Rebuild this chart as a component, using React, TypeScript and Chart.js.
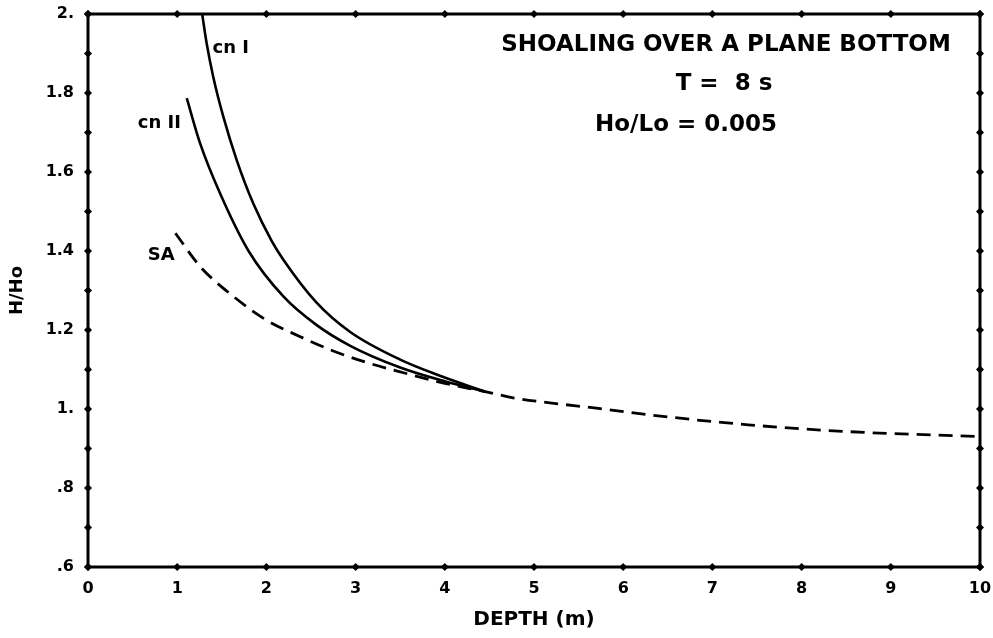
import React, { useEffect, useRef } from "react";
import { Chart, registerables } from "chart.js";

Chart.register(...registerables);

// Depth (m) and H/Ho readings
const cnIDepth = [1.28, 1.33, 1.405, 1.517, 1.667, 1.853, 2.06, 2.19, 2.56, 2.94, 3.5, 3.9, 4.45];
const cnIValues = [2.0, 1.926, 1.84, 1.74, 1.63, 1.52, 1.425, 1.378, 1.27, 1.195, 1.125, 1.088, 1.044];

const cnIIDepth = [1.107, 1.256, 1.48, 1.8, 2.19, 2.56, 2.94, 3.5, 4.0, 4.45];
const cnIIValues = [1.787, 1.673, 1.546, 1.4, 1.285, 1.213, 1.16, 1.105, 1.07, 1.044];

const saDepth = [0.98, 1.26, 1.63, 2.0, 2.38, 2.75, 3.12, 3.5, 4.0, 4.45, 4.8, 5.2, 5.7, 6.3, 7.4, 8.5, 10.0];
const saValues = [1.445, 1.36, 1.285, 1.225, 1.183, 1.147, 1.118, 1.094, 1.065, 1.044, 1.027, 1.015, 1.002, 0.985, 0.96, 0.943, 0.93];

const xTickValues = [0, 1, 2, 3, 4, 5, 6, 7, 8, 9, 10];
const yLabelMap: Record<string, string> = {
  "0.6": ".6",
  "0.8": ".8",
  "1.0": "1.",
  "1.2": "1.2",
  "1.4": "1.4",
  "1.6": "1.6",
  "1.8": "1.8",
  "2.0": "2.",
};

const titleLines = ["SHOALING OVER A PLANE BOTTOM", "T =  8 s", "Ho/Lo = 0.005"];
const curveLabels = [
  { text: "cn I", x: 1.6, y: 1.914 },
  { text: "cn II", x: 0.8, y: 1.724 },
  { text: "SA", x: 0.82, y: 1.39 },
];

const FONT = "'DejaVu Sans', 'Liberation Sans', sans-serif";

const pts = (xs: number[], ys: number[]) => xs.map((x, i) => ({ x, y: ys[i] }));

const framePlugin = {
  id: "frameAndText",
  afterDraw(chart: any) {
    const { ctx, chartArea: a, scales } = chart;
    const xs = scales.x;
    const ys = scales.y;
    ctx.save();
    ctx.strokeStyle = "#000";
    ctx.lineWidth = 3;
    ctx.strokeRect(a.left, a.top, a.right - a.left, a.bottom - a.top);
    const diamond = (cx: number, cy: number, r: number) => {
      ctx.beginPath();
      ctx.moveTo(cx - r, cy);
      ctx.lineTo(cx, cy - r);
      ctx.lineTo(cx + r, cy);
      ctx.lineTo(cx, cy + r);
      ctx.closePath();
      ctx.fill();
    };
    ctx.fillStyle = "#000";
    xTickValues.forEach((v) => {
      const px = xs.getPixelForValue(v);
      diamond(px, a.bottom, 4);
      diamond(px, a.top, 4);
    });
    for (let i = 0; i <= 14; i++) {
      const v = 0.6 + i * 0.1;
      const py = ys.getPixelForValue(v);
      diamond(a.left, py, 4);
      diamond(a.right, py, 4);
    }
    ctx.fillStyle = "#000";
    ctx.textAlign = "center";
    ctx.textBaseline = "middle";
    ctx.font = `bold 23px ${FONT}`;
    ctx.fillText(titleLines[0], 726, 45);
    ctx.fillText(titleLines[1], 724, 84);
    ctx.fillText(titleLines[2], 686, 125);
    ctx.font = `bold 18px ${FONT}`;
    curveLabels.forEach((l) => {
      ctx.fillText(l.text, xs.getPixelForValue(l.x), ys.getPixelForValue(l.y));
    });
    ctx.restore();
  },
};

export default function App() {
  const ref = useRef<HTMLCanvasElement | null>(null);
  useEffect(() => {
    if (!ref.current) return;
    const chart = new Chart(ref.current, {
      type: "line",
      data: {
        datasets: [
          {
            label: "cn I",
            data: pts(cnIDepth, cnIValues),
            borderColor: "#000",
            borderWidth: 2.6,
            pointRadius: 0,
            cubicInterpolationMode: "monotone",
            fill: false,
          },
          {
            label: "cn II",
            data: pts(cnIIDepth, cnIIValues),
            borderColor: "#000",
            borderWidth: 2.6,
            pointRadius: 0,
            cubicInterpolationMode: "monotone",
            fill: false,
          },
          {
            label: "SA",
            data: pts(saDepth, saValues),
            borderColor: "#000",
            borderWidth: 2.8,
            borderDash: [14, 8],
            pointRadius: 0,
            cubicInterpolationMode: "monotone",
            fill: false,
          },
        ],
      },
      options: {
        animation: false,
        responsive: true,
        maintainAspectRatio: false,
        layout: { padding: { top: 14, right: 13, left: 0, bottom: 0 } },
        plugins: { legend: { display: false }, tooltip: { enabled: false } },
        scales: {
          x: {
            type: "linear",
            min: 0,
            max: 10,
            afterFit: (s: any) => {
              s.height = 71;
              s.paddingLeft = 0;
              s.paddingRight = 0;
            },
            afterBuildTicks: (s: any) => {
              s.ticks = xTickValues.map((v) => ({ value: v }));
            },
            grid: { display: false, drawTicks: false },
            border: { display: false },
            ticks: {
              padding: 12,
              color: "#000",
              font: { family: FONT, size: 16, weight: "bold" },
              callback: (v: any) => String(v),
            },
            title: {
              display: true,
              text: "DEPTH (m)",
              color: "#000",
              font: { family: FONT, size: 20, weight: "bold" },
              padding: { top: 0, bottom: 6 },
            },
          },
          y: {
            type: "linear",
            min: 0.6,
            max: 2.0,
            afterFit: (s: any) => {
              s.width = 88;
              s.paddingTop = 0;
              s.paddingBottom = 0;
            },
            grid: { display: false, drawTicks: false },
            border: { display: false },
            ticks: {
              stepSize: 0.2,
              padding: 14,
              color: "#000",
              font: { family: FONT, size: 16, weight: "bold" },
              callback: (v: any) => yLabelMap[Number(v).toFixed(1)] ?? "",
            },
            title: {
              display: true,
              text: "H/Ho",
              color: "#000",
              font: { family: FONT, size: 18, weight: "bold" },
              padding: { top: 7, bottom: 0 },
            },
          },
        },
      },
      plugins: [framePlugin],
    } as any);
    return () => chart.destroy();
  }, []);
  return (
    <div style={{ position: "fixed", left: 0, top: 0, width: 993, height: 638, background: "#fff" }}>
      <canvas ref={ref} />
    </div>
  );
}
